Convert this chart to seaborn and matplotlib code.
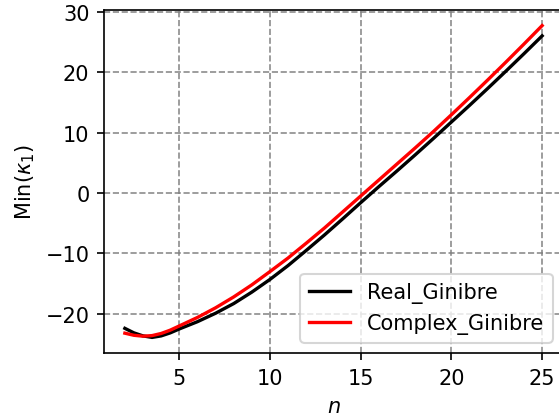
import matplotlib
matplotlib.use("Agg")
import matplotlib.pyplot as plt
import seaborn as sns
import pandas as pd

# values
n = [2, 2.5, 3, 3.5, 4, 4.5, 5, 6, 7, 8, 9, 10, 11, 12, 13, 14, 15,
     16, 17, 18, 19, 20, 21, 22, 23, 24, 25]
real_ginibre = [-22.4, -23.15, -23.65, -23.9, -23.65, -23.15, -22.5, -21.3, -19.9,
                -18.3, -16.4, -14.3, -12.0, -9.5, -6.95, -4.3, -1.6,
                1.05, 3.65, 6.3, 9.0, 11.75, 14.5, 17.3, 20.15, 23.05, 26.0]
complex_ginibre = [-23.2, -23.55, -23.7, -23.6, -23.25, -22.7, -22.0, -20.6, -19.0,
                   -17.2, -15.2, -13.0, -10.75, -8.3, -5.8, -3.15, -0.5,
                   2.15, 4.8, 7.45, 10.15, 12.95, 15.8, 18.7, 21.65, 24.65, 27.7]

df = pd.DataFrame({'n': n, 'Real_Ginibre': real_ginibre,
                   'Complex_Ginibre': complex_ginibre})

fig = plt.figure(figsize=(559 / 150, 417 / 150), dpi=150)
ax = fig.add_axes([104 / 559, 63 / 417, 459 / 559, 343 / 417])

sns.lineplot(data=df, x='n', y='Real_Ginibre', color='black', linewidth=1.6,
             label='Real_Ginibre', ax=ax)
sns.lineplot(data=df, x='n', y='Complex_Ginibre', color='red', linewidth=1.6,
             label='Complex_Ginibre', ax=ax)

ax.grid(True, linestyle='--', color='gray', linewidth=0.8, alpha=0.9)
ax.set_xticks([5, 10, 15, 20, 25])
ax.set_yticks([-20, -10, 0, 10, 20, 30])
ax.set_xlabel('$n$')
ax.set_ylabel(r'Min($\kappa_1$)')
ax.legend(loc='lower right')

fig.savefig('out.png', dpi=150)
